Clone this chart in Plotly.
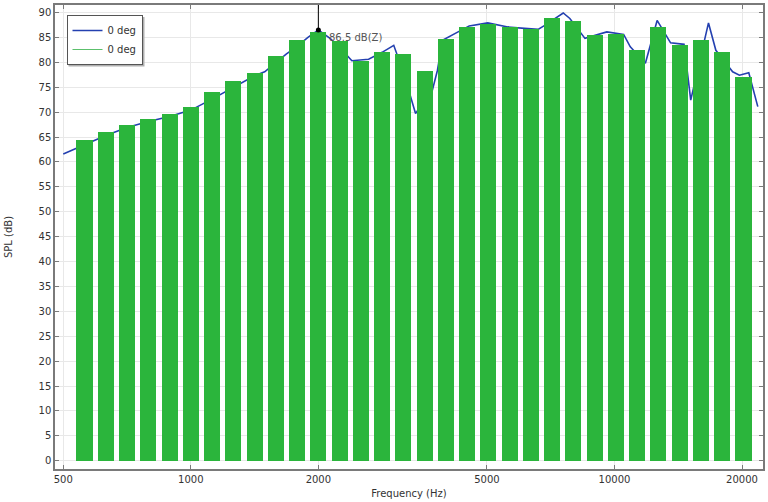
import math
import plotly.graph_objects as go

# 1/6-octave band centre frequencies (Hz) and band levels (dB)
band_freq = [561, 630, 707, 794, 891, 1000, 1122, 1260, 1414, 1587, 1782, 2000,
             2245, 2520, 2828, 3175, 3564, 4000, 4490, 5040, 5657, 6350, 7127, 8000,
             8980, 10079, 11314, 12699, 14254, 16000, 17959, 20159]
band_level = [64.4, 66.0, 67.5, 68.6, 69.6, 71.1, 74.1, 76.2, 77.8, 81.2, 84.4, 86.0,
              84.3, 80.3, 82.1, 81.6, 78.2, 84.6, 87.1, 87.6, 87.0, 86.6, 88.8, 88.2,
              85.4, 85.7, 82.4, 87.0, 83.4, 84.4, 82.1, 77.1]

# fine-resolution response (line)
line_freq = [500, 561, 630, 707, 794, 891, 1000, 1122, 1260, 1414, 1494, 1587, 1682,
             1782, 1890, 2000, 2131, 2245, 2400, 2628, 2828, 3013, 3175, 3392, 3564,
             3717, 3821, 3926, 4263, 4541, 5022, 5401, 5603, 6135, 6602, 6845, 7569,
             7846, 8518, 9592, 10511, 10898, 11830, 12609, 13566, 14594, 15136, 16670,
             17350, 19010, 19723, 20752, 21793]
line_level = [61.6, 63.5, 65.3, 66.9, 68.1, 69.1, 70.4, 72.6, 75.0, 77.3, 78.1, 80.0, 81.7,
              83.2, 85.0, 86.5, 84.8, 83.0, 80.3, 80.6, 82.0, 83.4, 78.0, 69.7, 72.5,
              74.4, 78.4, 84.4, 86.1, 87.3, 87.9, 87.3, 87.1, 86.8, 86.6, 87.4, 89.9,
              88.8, 84.8, 86.1, 85.6, 83.1, 79.8, 88.4, 83.9, 83.6, 72.4, 87.9,
              82.4, 78.1, 77.4, 77.9, 71.1]

peak_freq = 2000
peak_level = 86.5
series_name = "0 deg"

x_ticks = [500, 1000, 2000, 5000, 10000, 20000]

BLUE = "#2440b0"
GREEN = "#2bb53c"
FONT = "DejaVu Sans"
X_RANGE = [2.6794, 4.3506]
Y_RANGE = [-1.65, 91.5]
W, H = 768, 502
ML, MR, MT, MB = 55, 5, 5, 33

# bar extents on the log axis: symmetric in log space
half = 0.0631  # octaves
bar_offset = [f * 2 ** (-half) - f for f in band_freq]
bar_width = [f * (2 ** half - 2 ** (-half)) for f in band_freq]

fig = go.Figure()

# line on the base subplot (drawn underneath)
fig.add_trace(go.Scatter(
    x=line_freq, y=line_level, mode="lines",
    line=dict(color=BLUE, width=1.6), name=series_name,
))
# legend entry for the bars (thin green line like the reference)
fig.add_trace(go.Scatter(
    x=[None], y=[None], mode="lines",
    line=dict(color="#5cc06c", width=1.2), name=series_name,
))
# bars on an overlaying x axis so they are drawn above the line
fig.add_trace(go.Bar(
    x=band_freq, y=band_level, width=bar_width, offset=bar_offset,
    marker=dict(color=GREEN, line=dict(width=0)),
    showlegend=False, name=series_name, xaxis="x2",
))
# peak marker
fig.add_trace(go.Scatter(
    x=[peak_freq], y=[peak_level], mode="markers", xaxis="x2",
    marker=dict(color="black", size=5), showlegend=False, hoverinfo="skip",
))
fig.add_shape(type="line", xref="x", yref="y", x0=peak_freq, x1=peak_freq,
              y0=peak_level, y1=Y_RANGE[1], line=dict(color="black", width=1),
              layer="above")
fig.add_annotation(x=math.log10(peak_freq), y=peak_level, xref="x", yref="y",
                   text=f"{peak_level} dB(Z)", showarrow=False,
                   xanchor="left", yanchor="middle", xshift=9, yshift=-8,
                   font=dict(family=FONT, size=10, color="#555555"))

# soft shadow behind the legend box (pixel → paper conversion)
pw, ph = W - ML - MR, H - MT - MB
def px2paper(x, y):
    return (x - ML) / pw, (H - MB - y) / ph
sx0, sy0 = px2paper(68.5, 17)
sx1, sy1 = px2paper(144.5, 66.5)
fig.add_shape(type="rect", xref="paper", yref="paper", x0=sx0, x1=sx1, y0=sy1, y1=sy0,
              fillcolor="#b0b0b0", line=dict(width=0), layer="above")

axis_common = dict(
    showline=True, linecolor="#7a7a7a", linewidth=1.5, mirror="ticks",
    ticks="inside", ticklen=4, tickcolor="#7a7a7a", tickwidth=1,
    gridcolor="#e8e8e8", gridwidth=1, zeroline=False,
    tickfont=dict(family=FONT, size=10, color="#333333"),
)

fig.update_layout(
    xaxis=dict(type="log", range=X_RANGE, tickvals=x_ticks,
               ticktext=[str(v) for v in x_ticks],
               title=dict(text="Frequency (Hz)", standoff=6,
                          font=dict(family=FONT, size=10, color="#333333")),
               **axis_common),
    xaxis2=dict(type="log", range=X_RANGE, overlaying="x", visible=False,
                showgrid=False),
    yaxis=dict(range=Y_RANGE, tick0=0, dtick=5,
               title=dict(text="SPL (dB)", standoff=24,
                          font=dict(family=FONT, size=10, color="#333333")),
               **axis_common),
    width=W, height=H,
    margin=dict(l=ML, r=MR, t=MT, b=MB, autoexpand=False),
    plot_bgcolor="white", paper_bgcolor="white",
    bargap=0,
    legend=dict(x=(66.5 - ML) / pw, y=(H - MB - 15) / ph, xanchor="left", yanchor="top",
                bgcolor="white", bordercolor="#555555", borderwidth=1,
                font=dict(family=FONT, size=10, color="#333333"),
                itemwidth=30, tracegroupgap=2),
    font=dict(family=FONT),
)

fig.write_html("out.html", config={"displayModeBar": False},
               post_script="document.body.style.margin='0';")
